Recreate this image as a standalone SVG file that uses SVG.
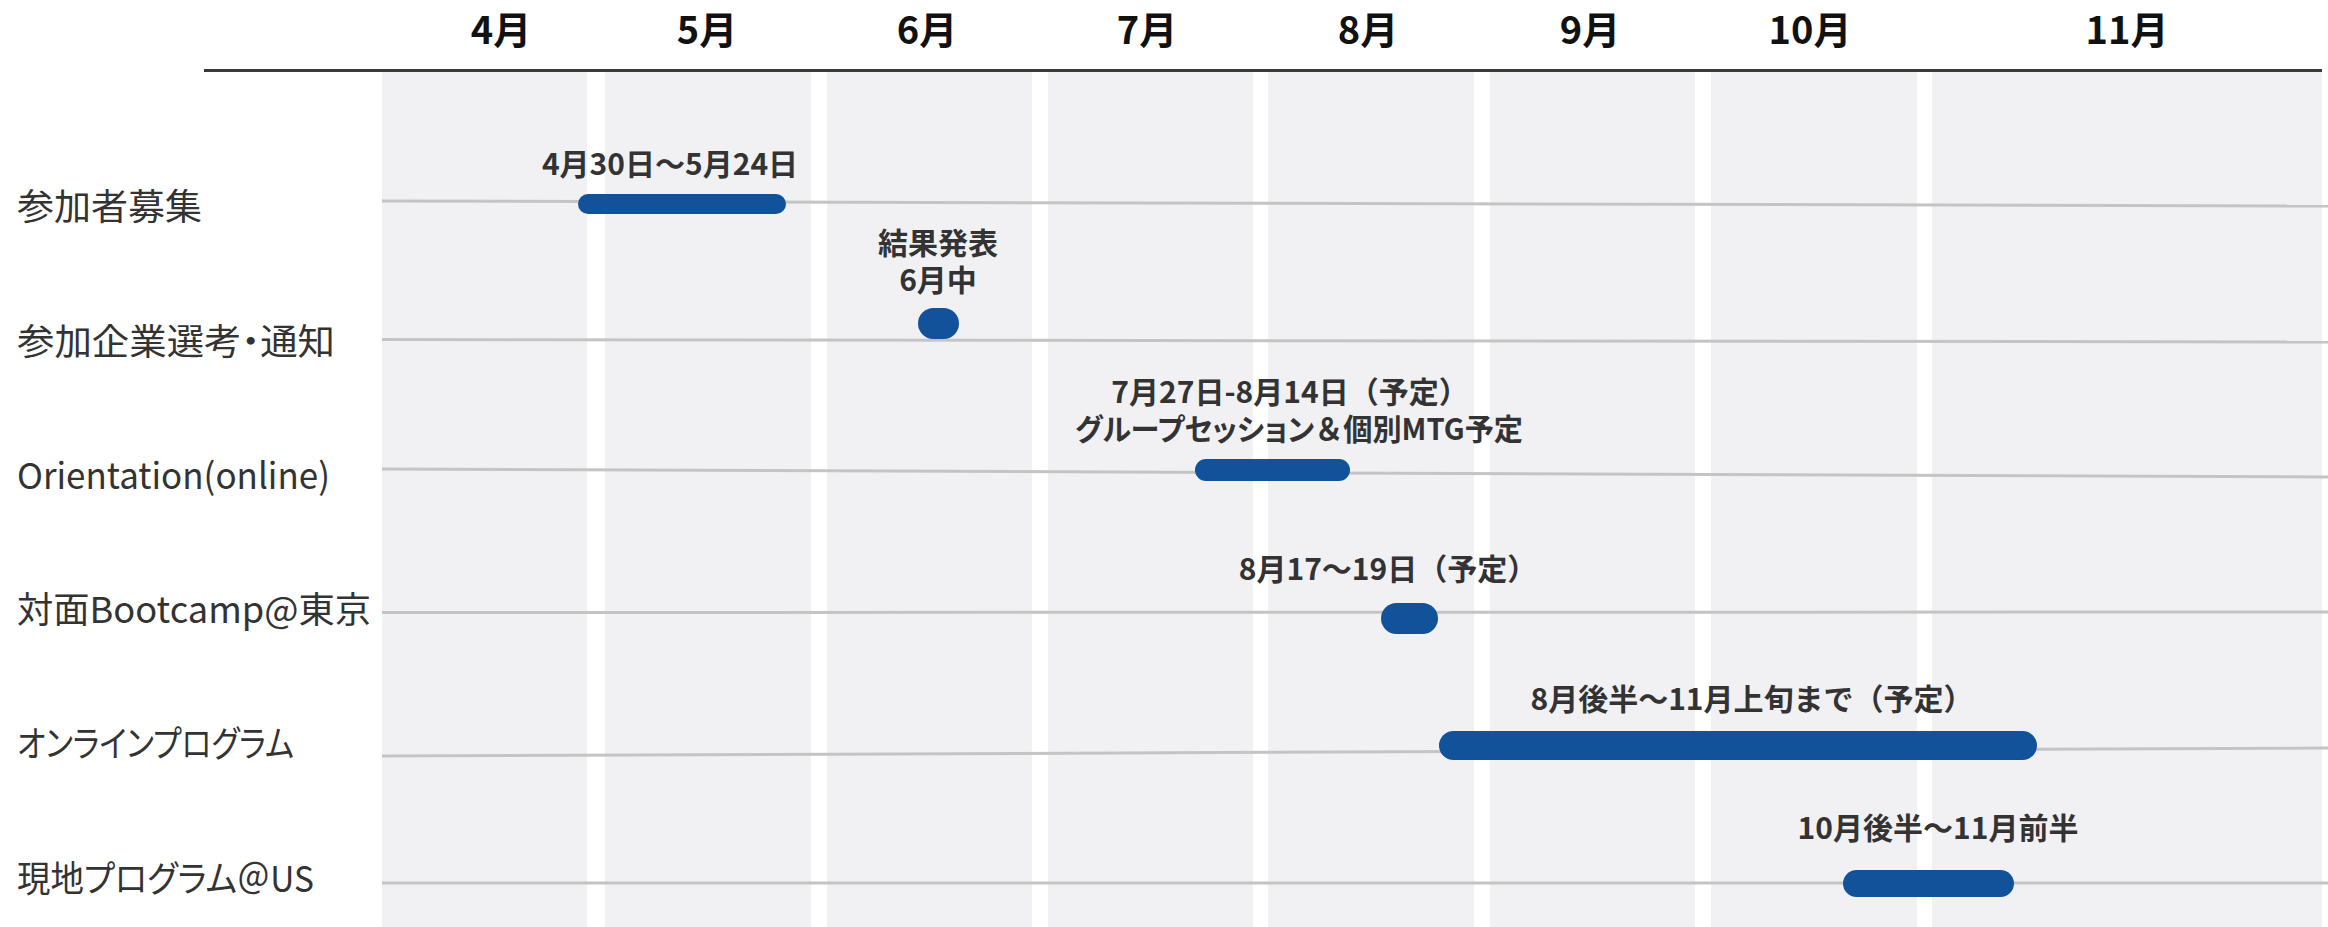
<svg xmlns="http://www.w3.org/2000/svg" width="2328" height="927" viewBox="0 0 2328 927">
<style>
  .col{fill:#f1f1f3}
  .grid{stroke:#c4c4c4;stroke-width:3;fill:none}
  .bar{fill:#11529b}
  .palt{font-feature-settings:"palt" 1}
  .nopalt{font-feature-settings:normal}
  .month{font-family:"Noto Sans CJK JP","Noto Sans",sans-serif;font-weight:700;font-size:38px;fill:#111;text-anchor:middle}
  .row{font-family:"Noto Sans CJK JP","Noto Sans",sans-serif;font-weight:400;font-size:36px;fill:#333;font-feature-settings:"palt" 1}
  .note{font-family:"Noto Sans CJK JP","Noto Sans",sans-serif;font-weight:700;font-size:30px;fill:#333;text-anchor:middle}
</style>
<rect width="2328" height="927" fill="#ffffff"/>
<g id="columns">
  <rect class="col" x="382" y="72" width="205" height="855"/>
  <rect class="col" x="605" y="72" width="206" height="855"/>
  <rect class="col" x="827" y="72" width="205" height="855"/>
  <rect class="col" x="1048" y="72" width="205" height="855"/>
  <rect class="col" x="1268" y="72" width="206" height="855"/>
  <rect class="col" x="1490" y="72" width="205" height="855"/>
  <rect class="col" x="1711" y="72" width="206" height="855"/>
  <rect class="col" x="1932" y="72" width="390" height="855"/>
</g>
<g id="header">
  <line x1="204" y1="70.5" x2="2322" y2="70.5" stroke="#3a3a3a" stroke-width="3"/>
  <text class="month" x="501" y="44">4月</text>
  <text class="month" x="707" y="44">5月</text>
  <text class="month" x="927" y="44">6月</text>
  <text class="month" x="1147" y="44">7月</text>
  <text class="month" x="1368" y="44">8月</text>
  <text class="month" x="1590" y="44">9月</text>
  <text class="month" x="1810" y="44">10月</text>
  <text class="month" x="2127" y="44">11月</text>
</g>
<g id="connectors">
  <line class="grid" x1="382" y1="201" x2="2328" y2="206"/>
  <line class="grid" x1="382" y1="339.5" x2="2328" y2="342"/>
  <line class="grid" x1="382" y1="469" x2="2328" y2="477"/>
  <line class="grid" x1="382" y1="612.5" x2="2328" y2="612"/>
  <line class="grid" x1="382" y1="756" x2="2328" y2="748"/>
  <line class="grid" x1="382" y1="883" x2="2328" y2="883"/>
</g>
<g id="row-recruit">
  <text class="row" x="17" y="220" textLength="185" lengthAdjust="spacingAndGlyphs">参加者募集</text>
  <rect class="bar" x="578" y="194" width="208" height="20" rx="10"/>
  <text class="note" x="670" y="175">4月30日～5月24日</text>
</g>
<g id="row-selection">
  <text class="row" x="17" y="355" textLength="318" lengthAdjust="spacingAndGlyphs">参加企業選考・通知</text>
  <rect class="bar" x="918" y="308" width="41" height="31" rx="15.5"/>
  <text class="note" x="938" y="254">結果発表</text>
  <text class="note" x="938" y="291">6月中</text>
</g>
<g id="row-orientation">
  <text class="row" x="17" y="489" textLength="313" lengthAdjust="spacingAndGlyphs">Orientation(online)</text>
  <rect class="bar" x="1195" y="459" width="155" height="22" rx="11"/>
  <text class="note" x="1290" y="403">7月27日-8月14日（予定）</text>
  <text class="note palt" x="1299" y="440" textLength="448" lengthAdjust="spacingAndGlyphs">グループセッション<tspan class="nopalt">＆</tspan>個別MTG予定</text>
</g>
<g id="row-bootcamp">
  <text class="row" x="17" y="623" textLength="354" lengthAdjust="spacingAndGlyphs">対面Bootcamp@東京</text>
  <rect class="bar" x="1381" y="603" width="57" height="31" rx="15.5"/>
  <text class="note" x="1388" y="580">8月17～19日（予定）</text>
</g>
<g id="row-online">
  <text class="row" x="17" y="757" textLength="277" lengthAdjust="spacingAndGlyphs">オンラインプログラム</text>
  <rect class="bar" x="1439" y="731" width="598" height="29" rx="14.5"/>
  <text class="note" x="1752" y="710">8月後半～11月上旬まで（予定）</text>
</g>
<g id="row-us">
  <text class="row" x="17" y="892" textLength="297" lengthAdjust="spacingAndGlyphs">現地プログラム＠US</text>
  <rect class="bar" x="1843" y="870" width="171" height="27" rx="13.5"/>
  <text class="note" x="1938" y="839">10月後半～11月前半</text>
</g>
</svg>
